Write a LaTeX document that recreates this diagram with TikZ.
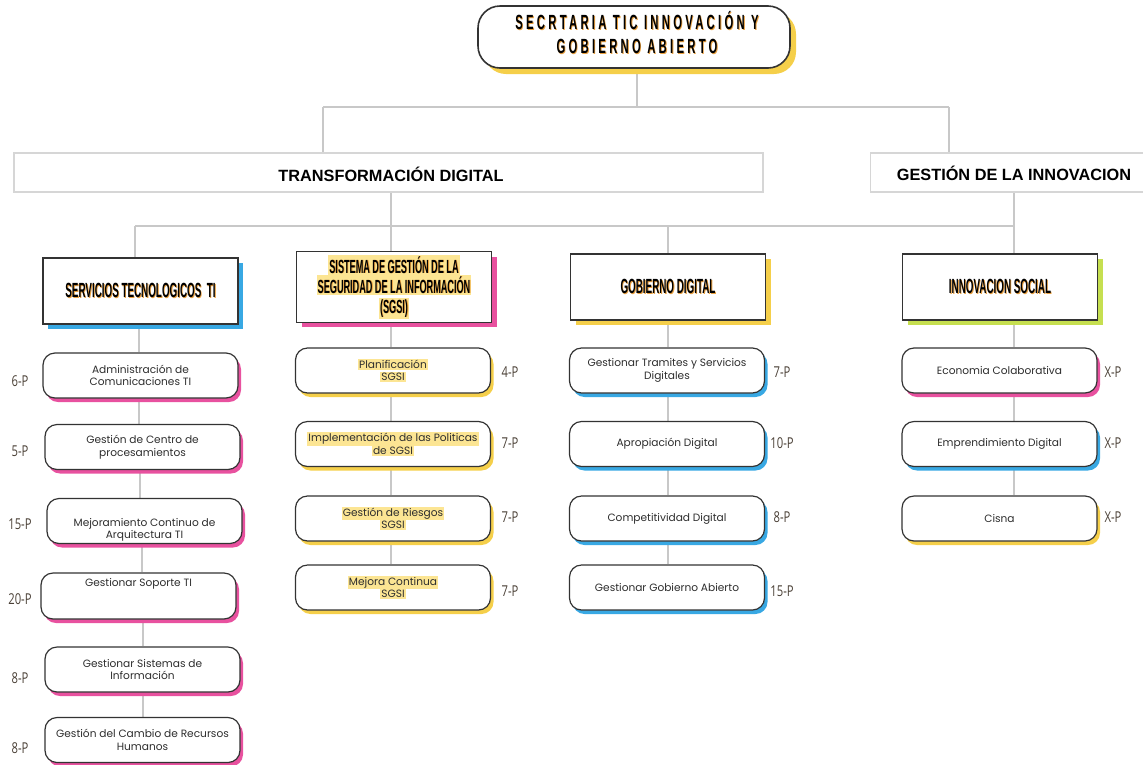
\documentclass[tikz,border=0pt]{standalone}
\usepackage{fontspec}
\setmainfont{Poppins}
\newfontfamily\condf[FakeStretch=0.48]{Liberation Sans}
\newfontfamily\titlef[FakeStretch=0.55,LetterSpace=16]{Liberation Sans}
\newfontfamily\headf{Liberation Sans}
\newfontfamily\numf[FakeStretch=0.75]{Open Sans}
\usetikzlibrary{shadows,backgrounds}
\definecolor{cpink}{HTML}{E8519F}
\definecolor{cblue}{HTML}{38A8E3}
\definecolor{cyellow}{HTML}{F5CF4A}
\definecolor{cgreen}{HTML}{C6DF50}
\definecolor{chl}{HTML}{FCE593}
\definecolor{cline}{HTML}{C8C8C8}
\definecolor{cbord}{HTML}{D6D6D6}
\definecolor{cdark}{HTML}{333333}
\definecolor{ctext}{HTML}{2E2E2E}
\definecolor{cnum}{HTML}{4A4036}
\definecolor{shadeor}{HTML}{E9A040}
\newcommand\shd[1]{\makebox[0pt][l]{\hspace{0.9pt}\raisebox{-0.9pt}{\textcolor{shadeor}{#1}}}#1}
\newcommand\hlt[1]{{\setlength{\fboxsep}{1.2pt}\colorbox{chl}{#1}}}
\newcommand\tightlines{\lineskiplimit=-30pt\lineskip=0pt}
\tikzset{
  conn/.style={draw=cline, line width=1.3pt},
  topbox/.style={draw=cdark, line width=1.6pt, rounded corners=22pt, fill=white,
    minimum width=312pt, minimum height=62pt,
    general shadow={fill=cyellow, shadow xshift=6pt, shadow yshift=-6pt}},
  toptext/.style={align=center, font=\titlef\bfseries\fontsize{20.5}{24}\selectfont\tightlines, text=black},
  hdrbox/.style={draw=cbord, line width=1.3pt, fill=white},
  hdrtext/.style={font=\headf\bfseries\fontsize{16.3}{18}\selectfont, text=black},
  colhead/.style={draw=cdark, line width=1.2pt, fill=white,
    minimum width=195pt, minimum height=66pt, align=center,
    font=\condf\bfseries\fontsize{20.5}{20}\selectfont\tightlines, text=black,
    general shadow={fill=#1, shadow xshift=5pt, shadow yshift=-5pt}},
  kid/.style={draw=cdark, line width=1.2pt, rounded corners=12pt, fill=white,
    minimum width=195pt, minimum height=45pt, align=center,
    font=\fontsize{10.6}{12.5}\selectfont\tightlines, text=ctext,
    general shadow={fill=#1, shadow xshift=3pt, shadow yshift=-4pt}},
  kidtext/.style={align=center, font=\fontsize{10.6}{12.5}\selectfont, text=ctext},
  num/.style={font=\numf\fontsize{15}{15}\selectfont, text=cnum},
}
\begin{document}
\begin{tikzpicture}[x=1pt,y=-1pt]
\useasboundingbox (0,0) rectangle (1143,764);

% ---------- nodes ----------
\node[topbox] (top) at (634,37) {};
\node[toptext] (toptx) at (637,33) {\shd{SECRTARIA TIC INNOVACIÓN Y}\\\shd{GOBIERNO ABIERTO}};

\node[hdrbox, minimum width=749pt, minimum height=39pt] (td) at (388.5,172.5) {};
\node[hdrtext] (tdt) at (391,174) {TRANSFORMACIÓN DIGITAL};
\node[hdrbox, minimum width=290pt, minimum height=39pt, anchor=west] (gi) at (870,172.5) {};
\node[hdrtext] (git) at (1014,173) {GESTIÓN DE LA INNOVACION};

\node[colhead=cblue] (st) at (140.5,291) {\shd{SERVICIOS TECNOLOGICOS\ \ TI}};
\node[colhead=cpink, font=\condf\bfseries\fontsize{19}{20}\selectfont\tightlines] (sg) at (394,287) {\hlt{\shd{SISTEMA DE GESTIÓN DE LA}}\\\hlt{\shd{SEGURIDAD DE LA INFORMACIÓN}}\\\hlt{\shd{(SGSI)}}};
\node[colhead=cyellow] (gd) at (668,287) {\shd{GOBIERNO DIGITAL}};
\node[colhead=cgreen] (is) at (1000,287) {\shd{INNOVACION SOCIAL}};

% column 1
\node[kid=cpink] (a1) at (140.5,375.5) {Administración de\\Comunicaciones TI};
\node[kid=cpink] (a2) at (142.5,447) {Gestión de Centro de\\procesamientos};
\node[kid=cpink] (a3) at (144.5,521) {};
\node[kidtext] (a3t) at (144.5,530) {Mejoramiento Continuo de\\Arquitectura TI};
\node[kid=cpink, minimum height=46pt] (a4) at (138.5,596) {};
\node[kidtext] (a4t) at (138.5,584) {Gestionar Soporte TI};
\node[kid=cpink] (a5) at (142.5,669.5) {Gestionar Sistemas de\\Información};
\node[kid=cpink] (a6) at (142.5,740) {Gestión del Cambio de Recursos\\Humanos};

% column 2
\node[kid=cyellow] (b1) at (393,370.5) {\hlt{Planificación}\\\hlt{SGSI}};
\node[kid=cyellow] (b2) at (393,444) {\hlt{Implementación de las Politicas}\\\hlt{de SGSI}};
\node[kid=cyellow] (b3) at (393,518.5) {\hlt{Gestión de Riesgos}\\\hlt{SGSI}};
\node[kid=cyellow] (b4) at (393,587.5) {\hlt{Mejora Continua}\\\hlt{SGSI}};

% column 3
\node[kid=cblue] (c1) at (667,370.5) {Gestionar Tramites y Servicios\\Digitales};
\node[kid=cblue] (c2) at (667,444) {Apropiación Digital};
\node[kid=cblue] (c3) at (667,518.5) {Competitividad Digital};
\node[kid=cblue] (c4) at (667,587.5) {Gestionar Gobierno Abierto};

% column 4
\node[kid=cpink] (d1) at (999.5,370.5) {Economia Colaborativa};
\node[kid=cblue] (d2) at (999.5,444) {Emprendimiento Digital};
\node[kid=cyellow] (d3) at (999.5,518.5) {Cisna};

% numbers
\node[num] (na1) at (20,381) {6-P};
\node[num] (na2) at (20,451) {5-P};
\node[num] (na3) at (20,524) {15-P};
\node[num] (na4) at (20,599) {20-P};
\node[num] (na5) at (20,678) {8-P};
\node[num] (na6) at (20,748) {8-P};
\node[num] (nb1) at (510,372) {4-P};
\node[num] (nb2) at (510,443) {7-P};
\node[num] (nb3) at (510,517) {7-P};
\node[num] (nb4) at (510,591) {7-P};
\node[num] (nc1) at (782,372) {7-P};
\node[num] (nc2) at (782,443) {10-P};
\node[num] (nc3) at (782,517) {8-P};
\node[num] (nc4) at (782,591) {15-P};
\node[num] (nd1) at (1113,372) {X-P};
\node[num] (nd2) at (1113,443) {X-P};
\node[num] (nd3) at (1113,517) {X-P};

% ---------- connectors (behind) ----------
\begin{pgfonlayer}{background}
\coordinate (j1) at (637,107);
\coordinate (jL) at (323,107);
\coordinate (jR) at (949,107);
\coordinate (k1) at (391,226);
\coordinate (kL) at (135,226);
\coordinate (kM) at (668,226);
\coordinate (kR) at (1014,226);
\draw[conn] (j1 |- top.south) -- (j1);
\draw[conn] (jL) -- (jR);
\draw[conn] (jL) -- (jL |- td.north);
\draw[conn] (jR) -- (jR |- gi.north);
\draw[conn] (k1 |- td.south) -- (k1);
\draw[conn] (kL) -- (kR);
\draw[conn] (kR |- gi.south) -- (kR);
\draw[conn] (kL) -- (kL |- st.north);
\draw[conn] (k1) -- (k1 |- sg.north);
\draw[conn] (kM) -- (kM |- gd.north);
\draw[conn] (kR) -- (kR |- is.north);
% column 1
\draw[conn] (st.south -| 139,0) -- (a1.north -| 139,0);
\draw[conn] (a1.south -| 139,0) -- (a2.north -| 139,0);
\draw[conn] (a2.south -| 140,0) -- (a3.north -| 140,0);
\draw[conn] (a3.south -| 142,0) -- (a4.north -| 142,0);
\draw[conn] (a4.south -| 143,0) -- (a5.north -| 143,0);
\draw[conn] (a5.south -| 143,0) -- (a6.north -| 143,0);
% column 2
\draw[conn] (sg.south -| 391,0) -- (b1.north -| 391,0);
\draw[conn] (b1.south -| 391,0) -- (b2.north -| 391,0);
\draw[conn] (b2.south -| 391,0) -- (b3.north -| 391,0);
\draw[conn] (b3.south -| 391,0) -- (b4.north -| 391,0);
% column 3
\draw[conn] (gd.south -| 668,0) -- (c1.north -| 668,0);
\draw[conn] (c1.south -| 668,0) -- (c2.north -| 668,0);
\draw[conn] (c2.south -| 668,0) -- (c3.north -| 668,0);
\draw[conn] (c3.south -| 668,0) -- (c4.north -| 668,0);
% column 4
\draw[conn] (is.south -| 1014,0) -- (d1.north -| 1014,0);
\draw[conn] (d1.south -| 1014,0) -- (d2.north -| 1014,0);
\draw[conn] (d2.south -| 1014,0) -- (d3.north -| 1014,0);
\end{pgfonlayer}
\end{tikzpicture}
\end{document}
